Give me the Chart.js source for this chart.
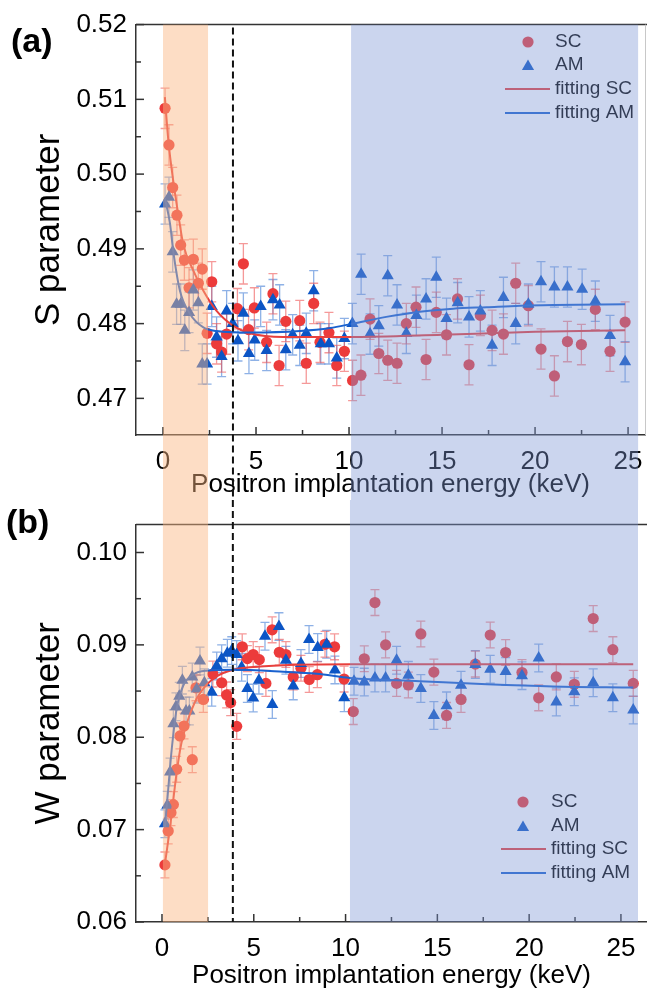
<!DOCTYPE html>
<html><head><meta charset="utf-8">
<script src="https://cdn.jsdelivr.net/npm/chart.js@4.4.0/dist/chart.umd.min.js"></script>
<style>
html,body{margin:0;padding:0;background:#fff;width:647px;height:991px;overflow:hidden;}
#wrap{position:relative;width:647px;height:991px;}
canvas{position:absolute;left:0;}
#ca{top:0;} #cb{top:500px;}
.lab{position:absolute;font-family:"Liberation Sans",Arial,sans-serif;font-weight:bold;font-size:34px;line-height:34px;color:#000;}
</style></head>
<body><div id="wrap">
<canvas id="cb" width="647" height="491"></canvas>
<canvas id="ca" width="647" height="512"></canvas>
<div class="lab" style="left:11px;top:23px">(a)</div>
<div class="lab" style="left:6px;top:504px">(b)</div>
</div>
<script>
// ---------- data ----------
const E_TICKS = [0, 5, 10, 15, 20, 25];
const S_TICKS = [0.47, 0.48, 0.49, 0.50, 0.51, 0.52];
const W_TICKS = [0.06, 0.07, 0.08, 0.09, 0.10];
const LEGEND_LABELS = ['SC', 'AM', 'fitting SC', 'fitting AM'];

// Panel (a): S parameter
const S_E_SC = [0.11,0.32,0.52,0.75,0.95,1.15,1.40,1.63,1.90,2.11,2.37,2.62,2.88,3.15,3.42,4.00,4.32,4.60,4.91,5.57,5.91,6.24,6.60,7.35,7.70,8.10,8.44,8.92,9.34,9.75,10.19,10.64,11.13,11.60,12.08,12.58,13.08,13.60,14.14,14.69,15.24,15.83,16.45,17.06,17.69,18.30,18.96,19.64,20.32,21.04,21.74,22.49,23.24,24.03,24.84];
const S_SC   = [0.5088,0.5039,0.4982,0.4945,0.4905,0.4885,0.4848,0.4886,0.4854,0.4873,0.4787,0.4856,0.4773,0.4762,0.4786,0.4820,0.4880,0.4792,0.4821,0.4775,0.4840,0.4744,0.4803,0.4804,0.4747,0.4827,0.4775,0.4788,0.4744,0.4763,0.4724,0.4731,0.4806,0.4760,0.4751,0.4747,0.4800,0.4822,0.4752,0.4815,0.4785,0.4833,0.4745,0.4811,0.4791,0.4786,0.4854,0.4824,0.4766,0.4730,0.4776,0.4772,0.4819,0.4763,0.4802];
const S_E_AM = [0.11,0.32,0.52,0.73,0.95,1.17,1.40,1.63,1.90,2.11,2.37,2.62,2.88,3.15,3.42,3.74,4.03,4.32,4.62,4.93,5.25,5.57,5.91,6.27,6.60,6.97,7.35,7.70,8.10,8.48,8.92,9.34,9.75,10.18,10.65,11.13,11.60,12.08,12.58,13.08,13.62,14.14,14.69,15.24,15.84,16.45,17.06,17.69,18.30,18.96,19.64,20.32,21.04,21.74,22.53,23.24,24.03,24.84];
const S_AM   = [0.4960,0.4969,0.4896,0.4826,0.4826,0.4791,0.4815,0.4845,0.4828,0.4746,0.4746,0.4823,0.4782,0.4756,0.4817,0.4800,0.4777,0.4814,0.4760,0.4778,0.4823,0.4764,0.4832,0.4825,0.4765,0.4785,0.4771,0.4787,0.4844,0.4773,0.4773,0.4754,0.4780,0.4800,0.4866,0.4786,0.4797,0.4864,0.4825,0.4787,0.4811,0.4833,0.4862,0.4807,0.4828,0.4809,0.4817,0.4771,0.4835,0.4800,0.4826,0.4856,0.4849,0.4849,0.4846,0.4830,0.4784,0.4749];
const S_ERR_SC = 0.0027;
const S_ERR_AM = 0.0027;
const S_FIT_E_SC = [0.10,0.29,0.55,0.82,1.09,1.63,2.17,2.88,3.78,4.68,6.47,10.0,15.0,20.0,24.84];
const S_FIT_SC   = [0.5103,0.5044,0.4991,0.4946,0.4906,0.4871,0.4844,0.4817,0.4797,0.4787,0.4782,0.4782,0.4785,0.4789,0.4791];
const S_FIT_E_AM = [0.10,0.38,0.55,0.91,1.45,2.17,2.88,4.70,7.37,8.98,10.2,12.0,13.8,15.6,17.4,19.2,21.0,24.84];
const S_FIT_AM   = [0.4968,0.4933,0.4897,0.4844,0.4813,0.4795,0.4790,0.4788,0.4790,0.4794,0.4800,0.4809,0.4816,0.4820,0.4822,0.4824,0.4825,0.4826];

// Panel (b): W parameter
const W_E_SC = [0.16,0.34,0.49,0.62,0.80,0.98,1.20,1.65,1.85,2.25,2.77,3.25,3.52,3.74,4.07,4.37,4.65,4.97,5.30,5.66,6.00,6.39,6.75,7.15,7.57,8.02,8.46,8.88,9.40,9.92,10.42,11.02,11.60,12.18,12.78,13.42,14.10,14.81,15.50,16.29,17.07,17.88,18.72,19.61,20.52,21.48,22.46,23.49,24.56,25.67];
const W_SC   = [0.06618,0.06986,0.07184,0.07271,0.07653,0.08014,0.08122,0.07757,0.08535,0.08409,0.08684,0.08590,0.08458,0.08375,0.08118,0.08979,0.08851,0.08896,0.08840,0.08583,0.09163,0.08920,0.08896,0.08653,0.08747,0.08625,0.08677,0.09007,0.08979,0.08630,0.08278,0.08850,0.09458,0.09000,0.08583,0.08566,0.09118,0.08705,0.08236,0.08409,0.08792,0.09107,0.08917,0.08701,0.08427,0.08653,0.08573,0.09285,0.08948,0.08583];
const W_E_AM = [0.16,0.29,0.44,0.62,0.76,0.94,1.11,1.31,1.49,1.65,1.89,2.07,2.31,2.71,2.98,3.25,3.56,3.80,4.07,4.34,4.65,4.97,5.28,5.61,6.01,6.37,6.75,7.15,7.57,8.01,8.48,8.97,9.42,9.93,10.46,11.02,11.60,12.18,12.78,13.42,14.10,14.81,15.50,16.29,17.07,17.88,18.72,19.61,20.52,21.48,22.46,23.49,24.56,25.67];
const W_AM   = [0.07063,0.07264,0.07625,0.08146,0.08330,0.08445,0.08618,0.08284,0.08284,0.08653,0.08521,0.08826,0.08590,0.08486,0.08771,0.08851,0.08910,0.08938,0.08896,0.08757,0.08528,0.08424,0.08618,0.09094,0.08354,0.09198,0.08833,0.08556,0.08799,0.09059,0.08972,0.09007,0.08729,0.08427,0.08607,0.08597,0.08642,0.08642,0.08833,0.08670,0.08528,0.08236,0.08340,0.08563,0.08788,0.08736,0.08712,0.08667,0.08858,0.08382,0.08493,0.08590,0.08427,0.08295];
const W_ERR_SC = 0.0014;
const W_ERR_AM = 0.0015;
const W_FIT_E_SC = [0.14,0.44,0.80,1.05,1.35,1.89,2.43,2.98,3.88,4.79,6.60,10.24,25.67];
const W_FIT_SC   = [0.0660,0.0703,0.0762,0.0793,0.0815,0.0842,0.0857,0.0866,0.0873,0.08757,0.0878,0.0879,0.0879];
const W_FIT_E_AM = [0.16,0.34,0.53,0.80,1.16,1.71,2.43,3.88,6.60,8.43,10.24,14.05,17.7,21.3,25.67];
const W_FIT_AM   = [0.0703,0.0744,0.0787,0.0831,0.0856,0.0868,0.0872,0.0873,0.0871,0.08688,0.08642,0.08607,0.08573,0.08549,0.08538];

// ---------- styles ----------
const FONT = '"Liberation Sans", Arial, sans-serif';
const RED = '#ec3b3b', BLUE = '#0c55c5';
const RED_FIT = '#e8403d', BLUE_FIT = '#1a62cf';
const RED_ERR = 'rgba(236,70,70,0.55)', BLUE_ERR = 'rgba(30,100,205,0.5)';
const ORANGE_BAND = 'rgba(250,180,128,0.46)', BLUE_BAND = 'rgba(125,150,212,0.40)';
const AXIS = '#333';
const R_CIRCLE = 5.6, R_TRI = 7;

const pts = (xs, ys) => xs.map((x, i) => ({x: x, y: ys[i]}));

function drawMarker(ctx, style, x, y, r, color) {
  ctx.save();
  ctx.fillStyle = color;
  ctx.beginPath();
  if (style === 'circle') {
    ctx.arc(x, y, r, 0, Math.PI * 2);
  } else {
    ctx.moveTo(x, y - r);
    ctx.lineTo(x + r * 0.866, y + r / 2);
    ctx.lineTo(x - r * 0.866, y + r / 2);
    ctx.closePath();
  }
  ctx.fill();
  ctx.restore();
}

const panelPlugin = {
  id: 'panel',
  beforeDatasetsDraw(chart) {
    const ctx = chart.ctx, ys = chart.scales.y;
    chart.data.datasets.forEach((ds, i) => {
      if (ds.errors === undefined) return;
      const meta = chart.getDatasetMeta(i);
      ctx.save();
      ctx.strokeStyle = ds.errColor;
      ctx.lineWidth = 1.3;
      meta.data.forEach((el, j) => {
        const v = ds.data[j].y;
        const y1 = ys.getPixelForValue(v + ds.errors);
        const y2 = ys.getPixelForValue(v - ds.errors);
        ctx.beginPath();
        ctx.moveTo(el.x, y1); ctx.lineTo(el.x, y2);
        ctx.moveTo(el.x - 4.5, y1); ctx.lineTo(el.x + 4.5, y1);
        ctx.moveTo(el.x - 4.5, y2); ctx.lineTo(el.x + 4.5, y2);
        ctx.stroke();
      });
      ctx.restore();
    });
  },
  afterDatasetsDraw(chart) {
    const P = chart.options.plugins.panel;
    const L = P.legend, ctx = chart.ctx;
    ctx.save();
    drawMarker(ctx, 'circle', L.mx, L.ys[0], R_CIRCLE, RED);
    drawMarker(ctx, 'triangle', L.mx, L.ys[1] + 1.5, R_TRI, BLUE);
    ctx.lineWidth = 2;
    ctx.strokeStyle = RED_FIT;
    ctx.beginPath(); ctx.moveTo(L.l0, L.ys[2]); ctx.lineTo(L.l1, L.ys[2]); ctx.stroke();
    ctx.strokeStyle = BLUE_FIT;
    ctx.beginPath(); ctx.moveTo(L.l0, L.ys[3]); ctx.lineTo(L.l1, L.ys[3]); ctx.stroke();
    ctx.fillStyle = '#000';
    ctx.font = '19px ' + FONT;
    ctx.textBaseline = 'middle';
    ctx.textAlign = 'left';
    LEGEND_LABELS.forEach((t, i) => ctx.fillText(t, L.tx, L.ys[i]));
    ctx.restore();
  },
  afterDraw(chart) {
    const P = chart.options.plugins.panel;
    const ctx = chart.ctx, xs = chart.scales.x, ys = chart.scales.y, ca = chart.chartArea;
    ctx.save();
    // inward ticks
    ctx.strokeStyle = AXIS; ctx.lineWidth = 1.5;
    const ex = E_TICKS, yt = P.yTicks;
    const dx = ex[1] - ex[0], dy = yt[1] - yt[0];
    const tick = (x1, y1, x2, y2) => { ctx.beginPath(); ctx.moveTo(x1, y1); ctx.lineTo(x2, y2); ctx.stroke(); };
    ex.forEach(v => {
      const px = xs.getPixelForValue(v);
      tick(px, ca.bottom, px, ca.bottom - 8);
      const m = v + dx / 2;
      if (m < xs.max) { const pm = xs.getPixelForValue(m); tick(pm, ca.bottom, pm, ca.bottom - 5); }
    });
    yt.forEach(v => {
      const py = ys.getPixelForValue(v);
      tick(ca.left, py, ca.left + 8, py);
      const m = v + dy / 2;
      if (m < ys.max) { const pm = ys.getPixelForValue(m); tick(ca.left, pm, ca.left + 5, pm); }
    });
    // frame
    tick(ca.left, ca.top, chart.width, ca.top);
    if (P.rightBorder) {
      ctx.strokeStyle = '#c8c8c8'; ctx.lineWidth = 1;
      tick(ca.right + 0.5, ca.top, ca.right + 0.5, ca.bottom);
    }
    // shaded bands (semi-transparent overlay)
    const bt = P.bandTop === 'area' ? ca.top : P.bandTop;
    const bb = P.bandBottom === 'area' ? ca.bottom : P.bandBottom;
    const o0 = xs.getPixelForValue(P.orange[0]), o1 = xs.getPixelForValue(P.orange[1]);
    const b0 = xs.getPixelForValue(P.blue[0]), b1 = xs.getPixelForValue(P.blue[1]);
    ctx.fillStyle = ORANGE_BAND; ctx.fillRect(o0, bt, o1 - o0, bb - bt);
    ctx.fillStyle = BLUE_BAND; ctx.fillRect(b0, bt, b1 - b0, bb - bt);
    // dashed line
    const dxp = xs.getPixelForValue(P.dash);
    ctx.strokeStyle = '#111'; ctx.lineWidth = 2; ctx.setLineDash([7, 4]);
    tick(dxp, bt + (P.bandTop === 'area' ? 3 : 0), dxp, bb);
    ctx.restore();
  }
};

function buildPanel(id, P) {
  const el = document.getElementById(id);
  const H = el.height;
  return new Chart(el, {
    type: 'scatter',
    data: {datasets: [
      {label: LEGEND_LABELS[3], data: pts(P.fitEam, P.fitAm), showLine: true, pointRadius: 0, borderColor: BLUE_FIT, borderWidth: 2, cubicInterpolationMode: 'monotone', order: 0},
      {label: LEGEND_LABELS[2], data: pts(P.fitEsc, P.fitSc), showLine: true, pointRadius: 0, borderColor: RED_FIT, borderWidth: 2, cubicInterpolationMode: 'monotone', order: 1},
      {label: LEGEND_LABELS[1], data: pts(P.eAm, P.am), pointStyle: 'triangle', pointRadius: R_TRI, backgroundColor: BLUE, borderWidth: 0, errors: P.errAm, errColor: BLUE_ERR, order: 2},
      {label: LEGEND_LABELS[0], data: pts(P.eSc, P.sc), pointStyle: 'circle', pointRadius: R_CIRCLE, backgroundColor: RED, borderWidth: 0, errors: P.errSc, errColor: RED_ERR, order: 3}
    ]},
    options: {
      responsive: false, animation: false, devicePixelRatio: 1, events: [],
      layout: {autoPadding: false, padding: {left: 0, right: P.padRight, top: P.padTop, bottom: 0}},
      plugins: {legend: {display: false}, tooltip: {enabled: false}, panel: P},
      scales: {
        x: {
          type: 'linear', min: P.xMin, max: P.xMax,
          afterBuildTicks: s => { s.ticks = E_TICKS.map(v => ({value: v})); },
          afterFit: s => { s.height = H - P.areaBottom; s.paddingLeft = 0; s.paddingRight = 0; },
          grid: {display: false, drawTicks: false},
          border: {display: true, color: AXIS, width: 1.5},
          ticks: {font: {family: FONT, size: 26}, color: '#000', padding: 11, maxRotation: 0, autoSkip: false, callback: v => String(v)},
          title: {display: true, text: 'Positron implantation energy (keV)', font: {family: FONT, size: 26}, color: '#000', padding: {top: 0, bottom: P.xTitlePad}}
        },
        y: {
          type: 'linear', min: P.yMin, max: P.yMax,
          afterBuildTicks: s => { s.ticks = P.yTicks.map(v => ({value: v})); },
          afterFit: s => { s.width = 136; },
          grid: {display: false, drawTicks: false},
          border: {display: true, color: AXIS, width: 1.5},
          ticks: {font: {family: FONT, size: 26}, color: '#000', padding: 9, autoSkip: false, callback: v => v.toFixed(2)},
          title: {display: true, text: P.yTitle, font: {family: FONT, size: 35}, color: '#000', padding: {top: 28, bottom: 0}}
        }
      }
    },
    plugins: [panelPlugin]
  });
}

buildPanel('ca', {
  eSc: S_E_SC, sc: S_SC, eAm: S_E_AM, am: S_AM, errSc: S_ERR_SC, errAm: S_ERR_AM,
  fitEsc: S_FIT_E_SC, fitSc: S_FIT_SC, fitEam: S_FIT_E_AM, fitAm: S_FIT_AM,
  yTicks: S_TICKS, yMin: 0.4651, yMax: 0.52, xMin: -1.452, xMax: 25.91,
  yTitle: 'S parameter', padTop: 23, padRight: 2, areaBottom: 435, xTitlePad: 12,
  orange: [0, 2.42], blue: [10.11, 25.54], dash: 3.76,
  bandTop: 'area', bandBottom: 500, rightBorder: true,
  legend: {mx: 528, tx: 555, l0: 505, l1: 550, ys: [42, 65, 89, 113]}
});
buildPanel('cb', {
  eSc: W_E_SC, sc: W_SC, eAm: W_E_AM, am: W_AM, errSc: W_ERR_SC, errAm: W_ERR_AM,
  fitEsc: W_FIT_E_SC, fitSc: W_FIT_SC, fitEam: W_FIT_E_AM, fitAm: W_FIT_AM,
  yTicks: W_TICKS, yMin: 0.06, yMax: 0.10302, xMin: -1.416, xMax: 26.42,
  yTitle: 'W parameter', padTop: 9, padRight: 0, areaBottom: 422, xTitlePad: 0,
  orange: [0.05, 2.51], blue: [10.24, 25.93], dash: 3.86,
  bandTop: 0, bandBottom: 'area', rightBorder: false,
  legend: {mx: 523, tx: 551, l0: 501, l1: 546, ys: [302, 326, 349, 373]}
});
</script>
</body></html>
